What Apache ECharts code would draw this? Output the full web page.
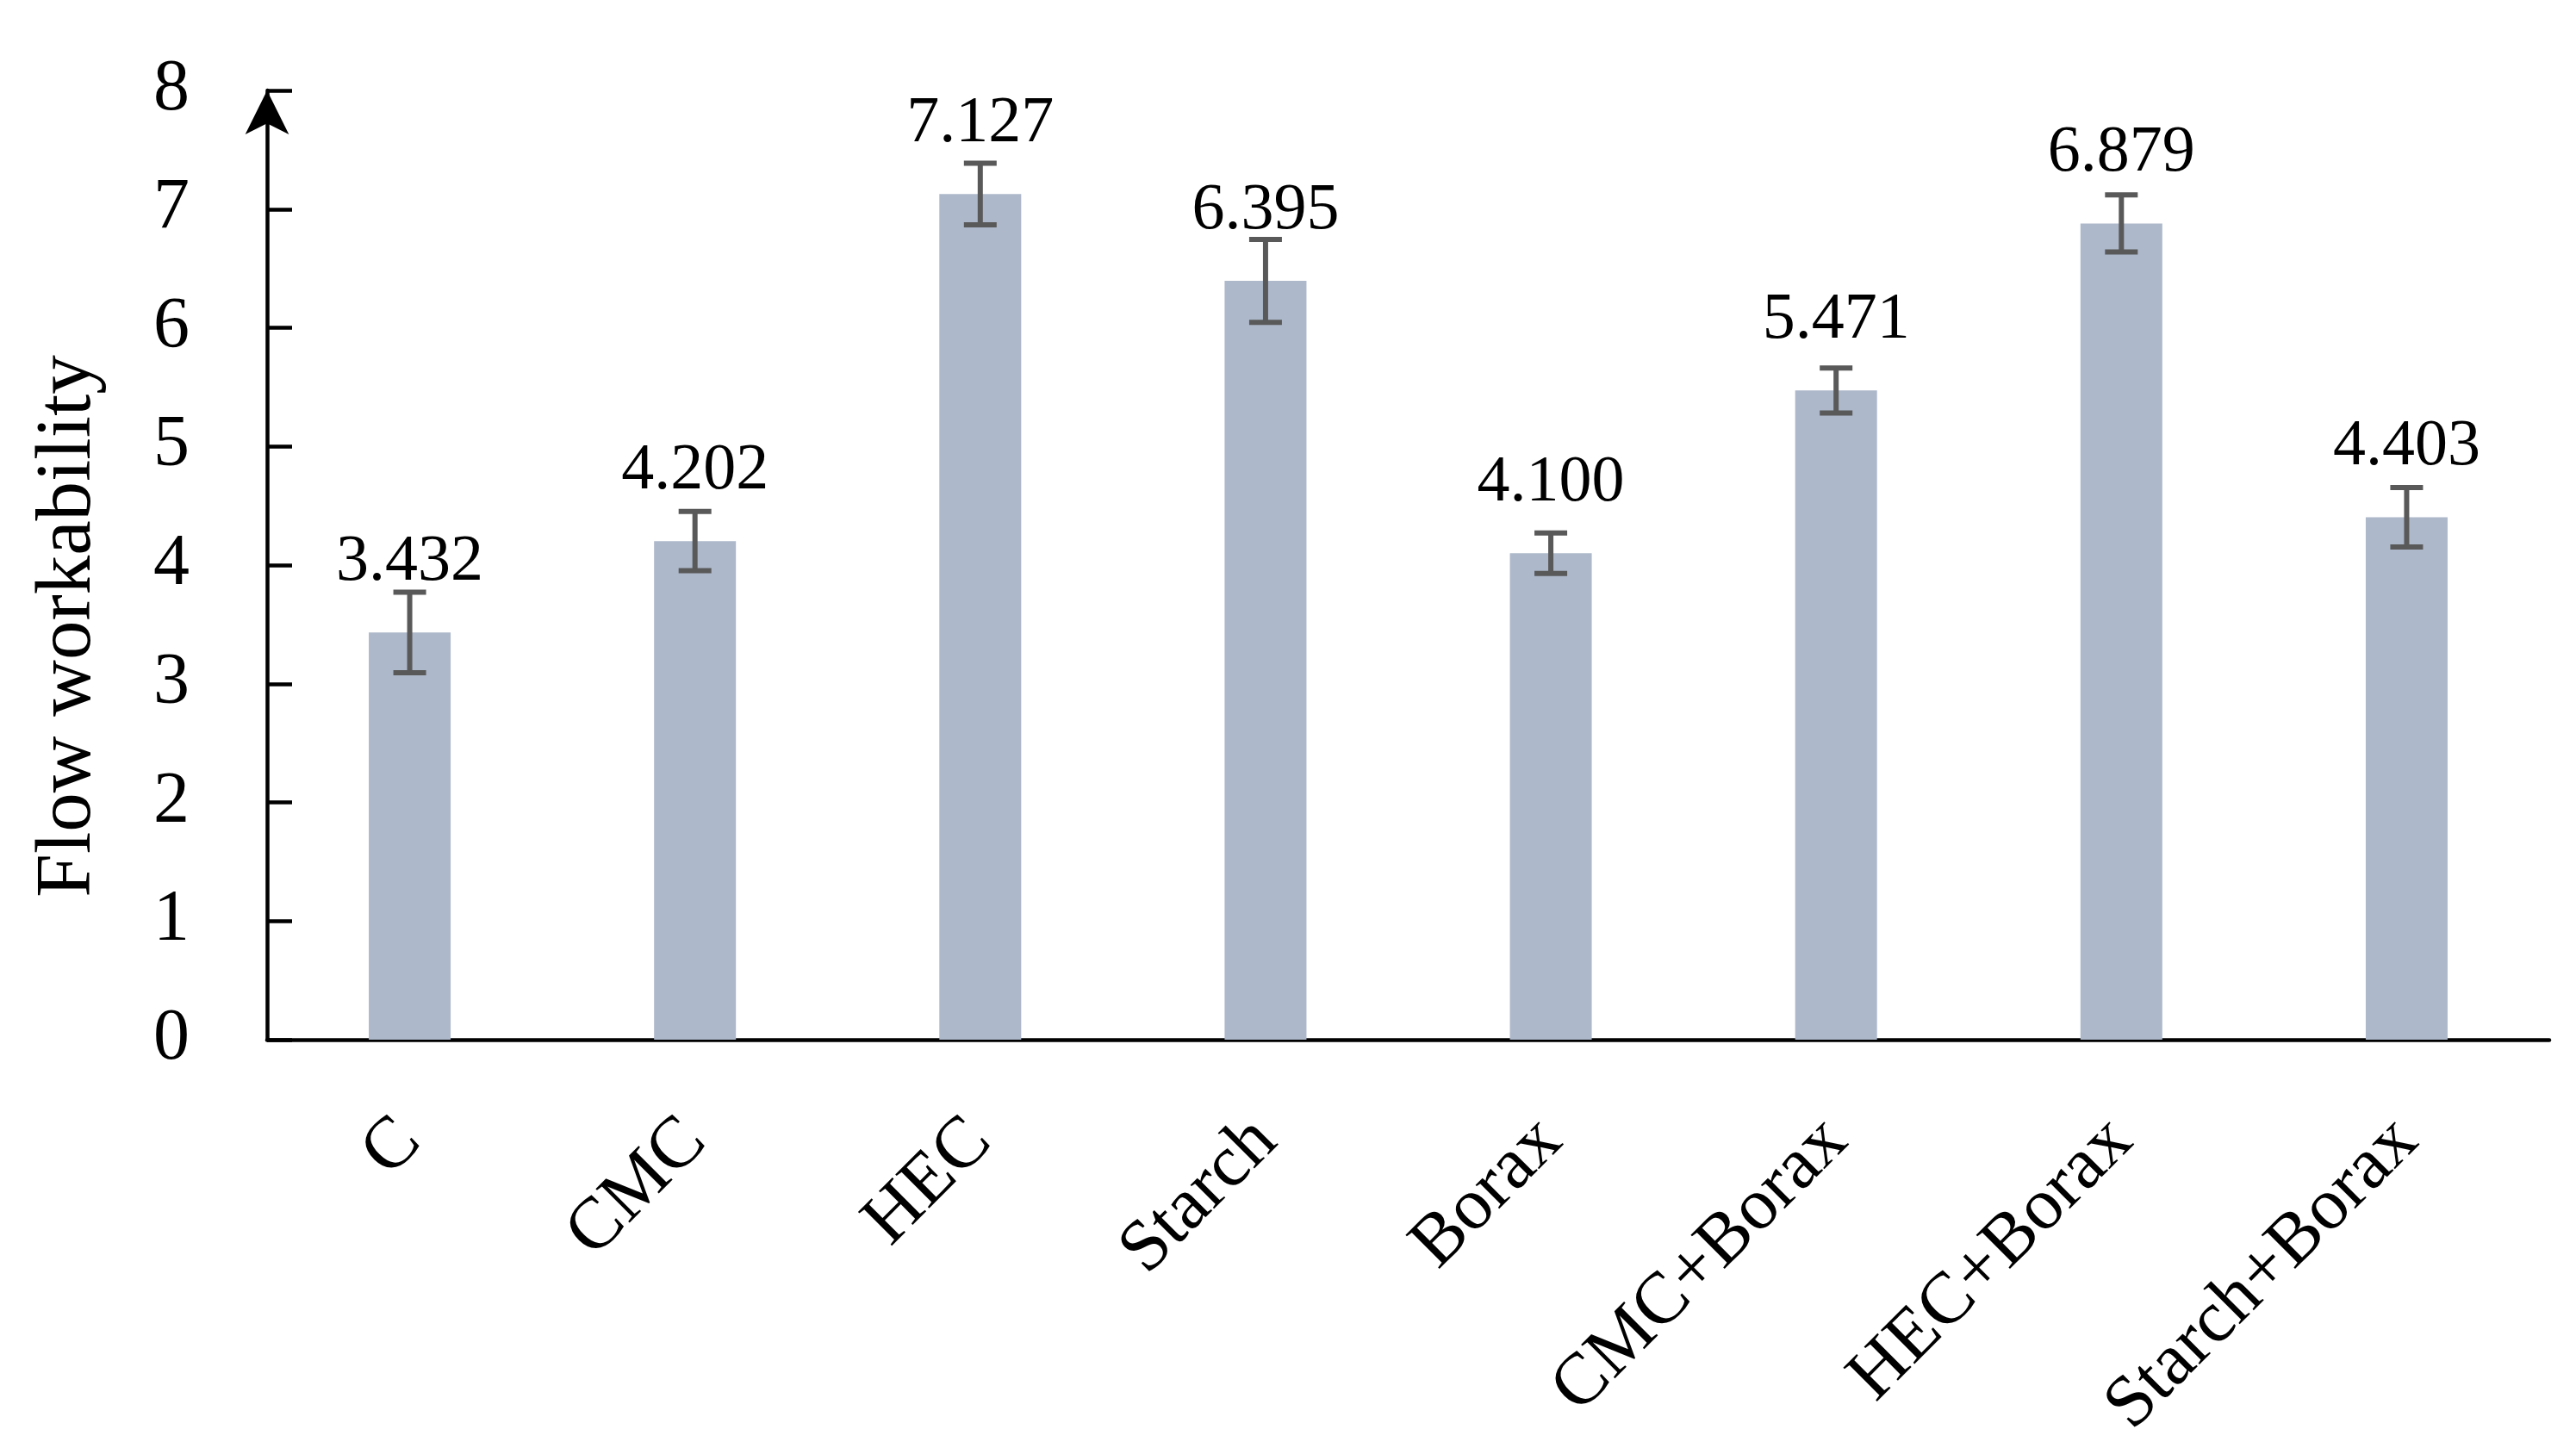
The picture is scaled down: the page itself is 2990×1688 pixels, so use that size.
<!DOCTYPE html>
<html>
<head>
<meta charset="utf-8">
<script src="https://cdn.jsdelivr.net/npm/echarts@6/dist/echarts.min.js"></script>
<style>
html,body{margin:0;padding:0;background:#fff;}
#chart{width:2990px;height:1688px;}
</style>
</head>
<body>
<div id="chart"></div>
<script>
const categories = ['C', 'CMC', 'HEC', 'Starch', 'Borax', 'CMC+Borax', 'HEC+Borax', 'Starch+Borax'];
const values = [3.432, 4.202, 7.127, 6.395, 4.100, 5.471, 6.879, 4.403];
const errors = [0.34, 0.25, 0.26, 0.35, 0.17, 0.19, 0.24, 0.25];
const yTicks = [0, 1, 2, 3, 4, 5, 6, 7, 8];
const axisTitle = 'Flow workability';

const FONT = '"Palatino Linotype", "Book Antiqua", Palatino, "Liberation Serif", serif';

const chart = echarts.init(document.getElementById('chart'), null, {renderer: 'canvas'});

const errData = categories.map((c, i) => [i, values[i], errors[i]]);

const option = {
  backgroundColor: '#ffffff',
  animation: false,
  grid: {left: 310, right: 31, top: 105, bottom: 481, containLabel: false},
  graphic: [{
    type: 'text',
    x: 80,
    y: 727,
    rotation: Math.PI / 2,
    style: {
      text: axisTitle,
      font: '91px ' + FONT,
      fill: '#000',
      align: 'center',
      verticalAlign: 'middle'
    }
  }],
  xAxis: {
    type: 'category',
    data: categories,
    axisLine: {show: true, lineStyle: {color: '#000', width: 4.5}},
    axisTick: {show: false},
    axisLabel: {
      rotate: 45,
      margin: 105,
      color: '#000',
      fontFamily: FONT,
      fontSize: 85,
      interval: 0
    },
    splitLine: {show: false}
  },
  yAxis: {
    type: 'value',
    min: yTicks[0],
    max: yTicks[yTicks.length - 1],
    interval: 1,
    axisLine: {
      show: true,
      lineStyle: {color: '#000', width: 4.5},
      symbol: ['none', 'arrow'],
      symbolSize: [38, 51],
      symbolOffset: [0, 0]
    },
    axisTick: {show: true, inside: true, length: 29, lineStyle: {color: '#000', width: 4.5}},
    axisLabel: {
      margin: 90,
      color: '#000',
      fontFamily: FONT,
      fontSize: 84
    },
    splitLine: {show: false}
  },
  series: [
    {
      type: 'bar',
      data: values,
      barWidth: 95,
      itemStyle: {color: '#adb8ca'},
      label: {
        show: true,
        position: 'top',
        distance: 43,
        color: '#000',
        fontFamily: FONT,
        fontSize: 76,
        lineHeight: 76,
        formatter: p => Number(p.value).toFixed(3)
      },
      z: 2
    },
    {
      type: 'custom',
      data: errData,
      encode: {x: 0, y: 1},
      z: 3,
      renderItem: function (params, api) {
        const i = api.value(0);
        const v = api.value(1);
        const e = api.value(2);
        const top = api.coord([i, v + e]);
        const bot = api.coord([i, v - e]);
        const hw = 19;
        const st = {stroke: '#595959', lineWidth: 6};
        return {
          type: 'group',
          children: [
            {type: 'line', shape: {x1: top[0], y1: top[1], x2: bot[0], y2: bot[1]}, style: st},
            {type: 'line', shape: {x1: top[0] - hw, y1: top[1], x2: top[0] + hw, y2: top[1]}, style: st},
            {type: 'line', shape: {x1: bot[0] - hw, y1: bot[1], x2: bot[0] + hw, y2: bot[1]}, style: st}
          ]
        };
      }
    }
  ]
};

chart.setOption(option);
</script>
</body>
</html>
